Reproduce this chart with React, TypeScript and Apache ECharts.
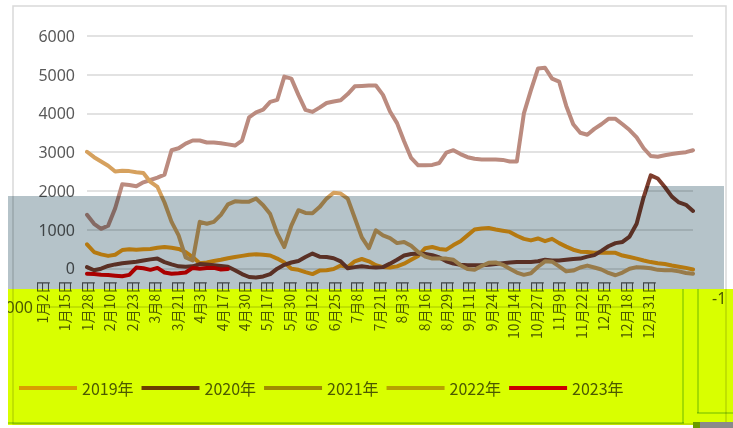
import React, { useEffect, useRef } from "react";
import * as echarts from "echarts";

// ---- categories ----
const monthDays = [31, 28, 31, 30, 31, 30, 31, 31, 30, 31, 30, 31];
const holidays = ["4月5日", "5月1日", "5月2日", "5月3日", "5月4日", "10月1日", "10月2日", "10月3日", "10月4日", "10月5日", "10月6日", "10月7日"];
const fullDates: string[] = [];
for (let m = 0; m < 12; m++) {
  for (let d = m === 0 ? 2 : 1; d <= monthDays[m]; d++) {
    const s = `${m + 1}月${d}日`;
    if (!holidays.includes(s)) fullDates.push(s);
  }
}
const SAMPLE_COUNT = 87;
const dataDates = Array.from({ length: SAMPLE_COUNT }, (_, k) => fullDates[Math.round((k * (fullDates.length - 1)) / (SAMPLE_COUNT - 1))]);

// ---- series ----
const seriesNames = ["2019年", "2020年", "2021年", "2022年", "2023年"];
const seriesColors = ["#ff9e14", "#7e3e2e", "#bb8b7f", "#d6a15e", "#f00000"];

const s2019 = [620, 420, 360, 320, 350, 470, 490, 480, 490, 500, 530, 550, 530, 500, 420, 290, 130, 150, 190, 220, 260, 290, 320, 350, 360, 350, 330, 250, 150, -10, -40, -100, -150, -60, -50, -20, 70, 30, 180, 240, 180, 80, 30, 20, 50, 120, 220, 320, 520, 550, 500, 480, 600, 700, 850, 1000, 1030, 1040, 1000, 970, 940, 840, 760, 720, 770, 700, 760, 650, 560, 480, 430, 420, 400, 410, 400, 400, 330, 290, 250, 200, 160, 130, 110, 70, 40, 10, -30];
const s2020 = [30, -50, -10, 60, 100, 130, 150, 170, 200, 230, 250, 160, 100, 50, 40, 50, 110, 100, 80, 60, 40, -50, -150, -225, -240, -210, -150, -10, 90, 150, 190, 290, 380, 300, 290, 260, 180, 0, 30, 50, 30, 20, 30, 120, 220, 330, 370, 380, 370, 340, 280, 180, 120, 90, 80, 80, 80, 90, 110, 130, 150, 165, 165, 165, 180, 220, 200, 200, 220, 240, 250, 300, 340, 450, 570, 650, 680, 820, 1150, 1840, 2400, 2320, 2100, 1850, 1700, 1640, 1480];
const s2021 = [1380, 1150, 1020, 1100, 1550, 2170, 2150, 2120, 2220, 2280, 2340, 2420, 3050, 3100, 3220, 3300, 3300, 3250, 3250, 3230, 3200, 3170, 3300, 3900, 4030, 4100, 4300, 4350, 4950, 4900, 4480, 4090, 4040, 4150, 4270, 4310, 4340, 4500, 4700, 4710, 4720, 4720, 4480, 4050, 3750, 3280, 2850, 2660, 2660, 2670, 2720, 2990, 3050, 2950, 2870, 2830, 2810, 2810, 2810, 2800, 2760, 2760, 4000, 4600, 5160, 5180, 4900, 4820, 4200, 3720, 3500, 3450, 3600, 3720, 3860, 3860, 3720, 3570, 3380, 3100, 2900, 2880, 2920, 2950, 2980, 3000, 3050];
const s2022 = [3010, 2870, 2760, 2650, 2500, 2520, 2510, 2480, 2460, 2230, 2100, 1700, 1200, 850, 280, 200, 1200, 1150, 1200, 1380, 1650, 1730, 1720, 1720, 1800, 1630, 1400, 900, 550, 1100, 1500, 1430, 1420, 1580, 1800, 1950, 1930, 1800, 1300, 800, 520, 980, 850, 780, 650, 680, 580, 420, 300, 250, 250, 250, 220, 80, -20, -40, 60, 140, 150, 90, -10, -110, -170, -130, 40, 180, 170, 50, -80, -60, 20, 70, 20, -30, -120, -180, -110, -10, 30, 20, 0, -40, -50, -50, -80, -120, -140];
const s2023 = [-140, -150, -165, -175, -190, -205, -170, 20, 0, -40, 10, -110, -140, -130, -110, 10, -10, 10, 10, -30, -20];
const seriesValues = [s2019, s2020, s2021, s2022, s2023];

// ---- value axis ----
const yMin = -1000;
const yMax = 6000;
const yStep = 1000;
// fragments of the "-1000" tick label as they show in the picture (split by the shifted strip)
const minLabelLeftPart = "000";
const minLabelRightPart = "-1";

const cjk = "Noto Sans CJK SC";
const TRANSPARENT = "rgba(0,0,0,0)";
const GRID = "#d9d9d9";

const overlayBase: React.CSSProperties = { position: "absolute", mixBlendMode: "multiply", pointerEvents: "none" };

export default function App() {
  const ref = useRef<HTMLDivElement>(null);
  useEffect(() => {
    if (!ref.current) return;
    const chart = echarts.init(ref.current, undefined, { renderer: "svg" });
    const nLines = (yMax - yMin) / yStep + 1;
    chart.setOption({
      animation: false,
      grid: [
        { left: 87, right: 40, top: 36, bottom: 121, containLabel: false, outerBoundsMode: "none" },
        { left: 42, right: 85, top: 36, bottom: 121, containLabel: false, outerBoundsMode: "none" },
      ],
      xAxis: [
        { gridIndex: 0, type: "category", data: dataDates, boundaryGap: false, show: false },
        {
          gridIndex: 1,
          type: "category",
          data: fullDates,
          boundaryGap: false,
          offset: -35,
          axisLine: { show: false },
          axisTick: { show: false },
          splitLine: { show: false },
          axisLabel: { interval: 12, rotate: 90, fontSize: 14, color: "#595959", fontFamily: cjk, margin: 8 },
        },
      ],
      yAxis: [
        {
          gridIndex: 0,
          type: "value",
          min: yMin,
          max: yMax,
          interval: yStep,
          axisLine: { show: false },
          axisTick: { show: false },
          axisLabel: { formatter: (v: number) => (v === yMin ? "" : String(v)), fontSize: 16, color: "#595959", margin: 12, fontFamily: "Noto Sans" },
          splitLine: { lineStyle: { color: [TRANSPARENT, ...Array(nLines - 1).fill(GRID)], width: 1.5 } },
        },
        {
          gridIndex: 1,
          type: "value",
          min: yMin,
          max: yMax,
          interval: yStep,
          axisLine: { show: false },
          axisTick: { show: false },
          axisLabel: { show: false },
          splitLine: { lineStyle: { color: [GRID, ...Array(nLines - 1).fill(TRANSPARENT)], width: 1.5 } },
        },
      ],
      legend: {
        left: 19,
        top: 380,
        padding: 0,
        itemWidth: 58,
        itemHeight: 4,
        itemGap: 8,
        icon: "rect",
        data: seriesNames,
        textStyle: { fontSize: 16, color: "#595959", fontFamily: cjk },
      },
      series: seriesNames.map((name, i) => ({
        name,
        type: "line",
        xAxisIndex: 0,
        yAxisIndex: 0,
        data: seriesValues[i],
        symbol: "none",
        color: seriesColors[i],
        lineStyle: { color: seriesColors[i], width: 4, cap: "round", join: "round" },
      })),
      graphic: [
        { type: "rect", silent: true, z: -10, shape: { x: 13, y: 6, width: 713, height: 418 }, style: { fill: "none", stroke: "#d9d9d9", lineWidth: 1.5 } },
        { type: "text", silent: true, x: 33, y: 307, style: { text: minLabelLeftPart, fontSize: 16, fill: "#595959", fontFamily: "Noto Sans", align: "right", verticalAlign: "middle" } },
        { type: "text", silent: true, x: 712, y: 298, style: { text: minLabelRightPart, fontSize: 16, fill: "#595959", fontFamily: "Noto Sans", verticalAlign: "middle" } },
      ],
    });
    return () => chart.dispose();
  }, []);

  return (
    <div style={{ position: "fixed", left: 0, top: 0, width: 733, height: 428, background: "#fff", overflow: "hidden" }}>
      <div ref={ref} style={{ position: "absolute", left: 0, top: 0, width: 733, height: 428 }} />
      <div style={{ ...overlayBase, left: 8, top: 196, width: 716, height: 93, background: "#b5c3c9" }} />
      <div style={{ ...overlayBase, left: 646, top: 186, width: 78, height: 10, background: "#b5c3c9" }} />
      <div style={{ ...overlayBase, left: 8, top: 289, width: 725, height: 136, background: "#d9ff00" }} />
      <div style={{ ...overlayBase, left: 682, top: 289, width: 2, height: 134, background: "#c0dc00" }} />
      <div style={{ ...overlayBase, left: 8, top: 422, width: 676, height: 2, background: "#c0dc00" }} />
      <div style={{ ...overlayBase, left: 697, top: 289, width: 2, height: 124, background: "#c0dc00" }} />
      <div style={{ ...overlayBase, left: 697, top: 412, width: 36, height: 2, background: "#c0dc00" }} />
      <div style={{ position: "absolute", left: 693, top: 422, width: 40, height: 6, background: "#8a8a8a" }} />
      <div style={{ position: "absolute", left: 693, top: 422, width: 7, height: 6, background: "#6a9a00" }} />
      <div style={{ position: "absolute", left: 0, top: 0, width: 8, height: 428, background: "#fff" }} />
    </div>
  );
}
